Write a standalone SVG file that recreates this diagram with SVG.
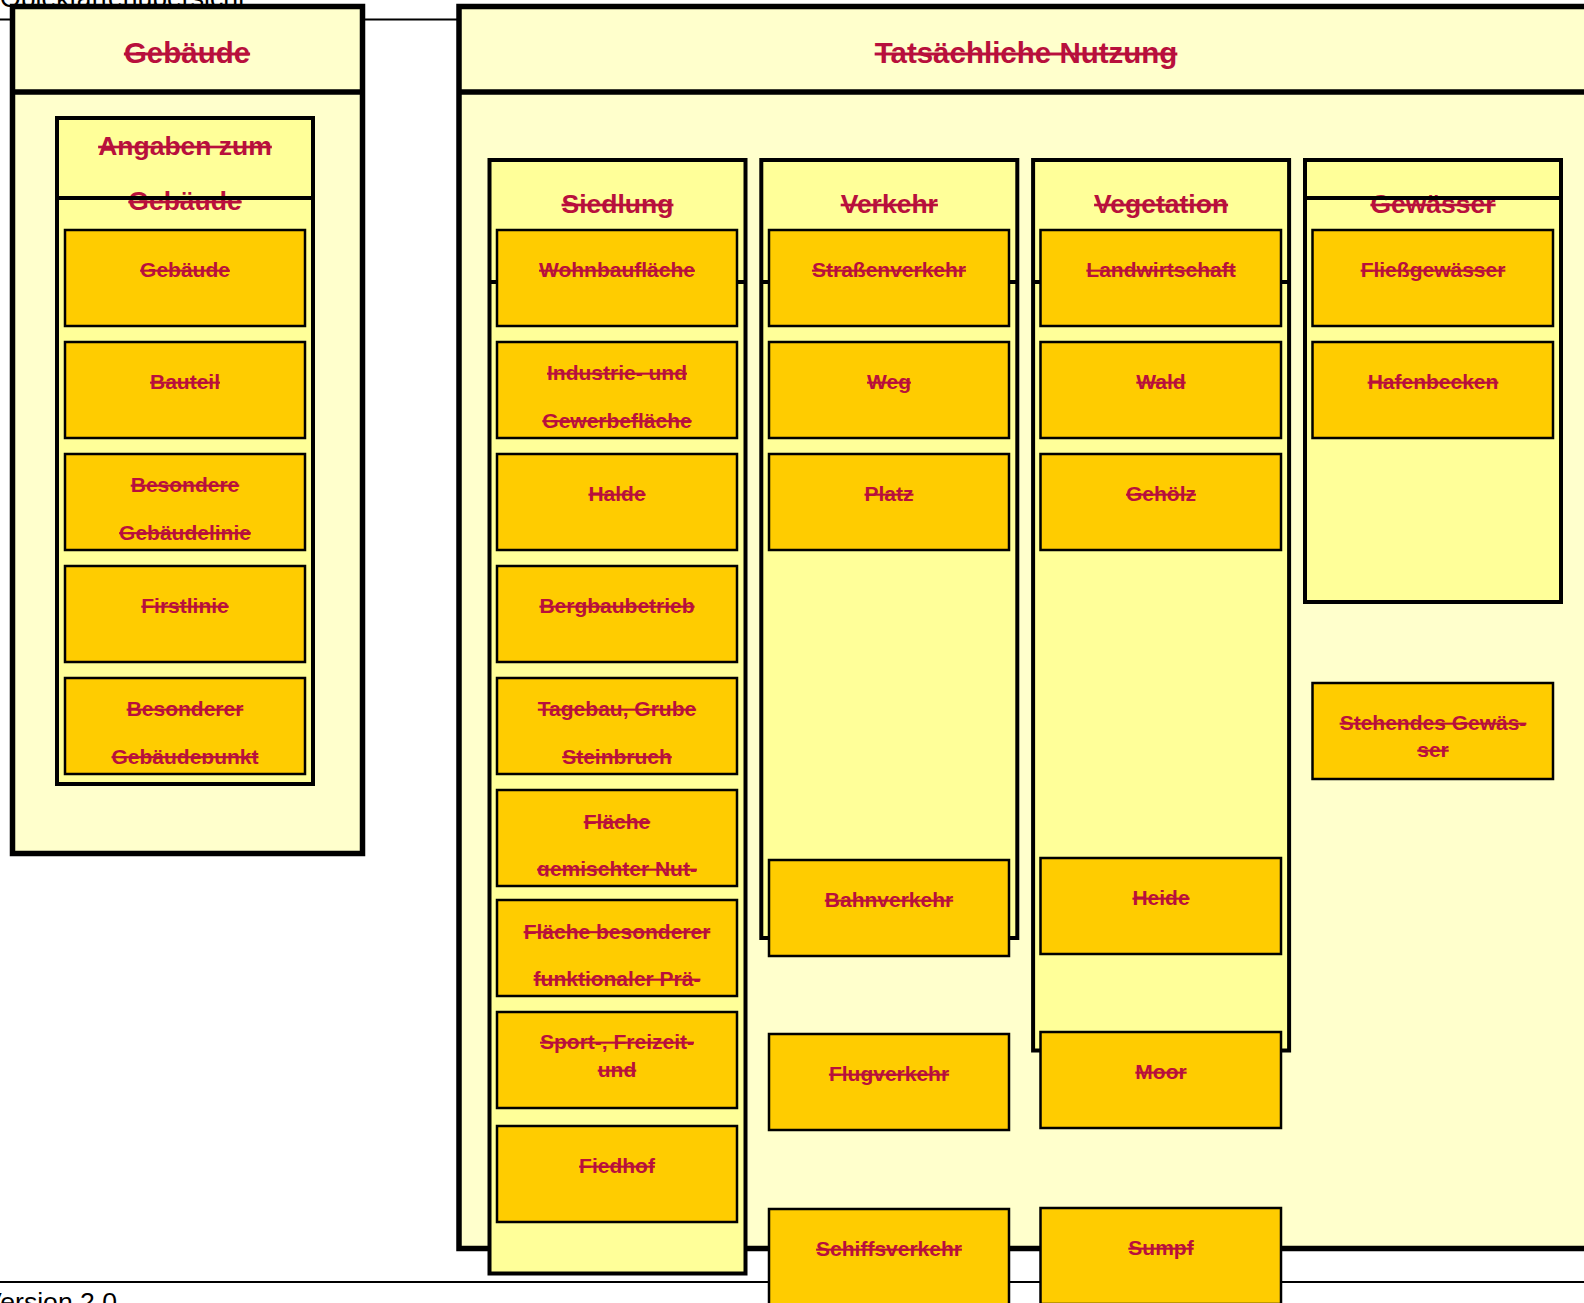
<svg xmlns="http://www.w3.org/2000/svg" width="1584" height="1303" viewBox="0 0 1584 1303">
<defs>
<style>
.t{font-family:"Liberation Sans",Arial,sans-serif;font-weight:bold;fill:#B8103C;text-anchor:middle;text-decoration:line-through}
.h1{font-size:29.5px}
.h2{font-size:26.5px}
.c{font-size:21px}
.outer{fill:#FFFFCC;stroke:#000;stroke-width:5.5}
.col{fill:#FFFF99;stroke:#000;stroke-width:4}
.div{stroke:#000;stroke-width:4;fill:none}
.node rect{fill:#FFCC00;stroke:#000;stroke-width:2.5}
.plain{font-family:"Liberation Sans",Arial,sans-serif;fill:#000;font-size:26.6px}
</style>
<clipPath id="clipA"><rect x="497" y="790" width="240" height="86.5"/></clipPath>
<clipPath id="clipB"><rect x="65" y="678" width="240" height="86"/></clipPath>
</defs>

<g id="page">
<text class="plain" x="0" y="7">Objektartenübersicht</text>
<line x1="0" y1="19.5" x2="1584" y2="19.5" stroke="#000" stroke-width="2"/>
<line x1="0" y1="1282" x2="1584" y2="1282" stroke="#000" stroke-width="2"/>
<text class="plain" x="-16" y="1311">Version 2.0</text>
</g>

<g id="gebaeude-pkg">
<rect class="outer" x="12.5" y="6.5" width="350" height="847"/>
<line class="div" x1="12.5" y1="92" x2="362.5" y2="92" style="stroke-width:5.5"/>
<text class="t h1" x="187" y="63">Gebäude</text>
</g>

<g id="angaben-pkg">
<rect class="col" x="57" y="118" width="256" height="666"/>
<text class="t h2" x="185" y="155">Angaben zum</text>
<text class="t h2" x="185" y="210">Gebäude</text>
<line class="div" x1="57" y1="198" x2="313" y2="198"/>
</g>

<g id="nutzung-pkg">
<rect class="outer" x="459" y="6.5" width="1150" height="1242"/>
<line class="div" x1="459" y1="92" x2="1600" y2="92" style="stroke-width:5.5"/>
<text class="t h1" x="1026" y="63">Tatsächliche Nutzung</text>
</g>

<g id="siedlung-pkg">
<rect class="col" x="489.5" y="160" width="256" height="1113.5"/>
<text class="t h2" x="617.5" y="213">Siedlung</text>
<line class="div" x1="489.5" y1="282" x2="745.5" y2="282"/>
</g>
<g id="verkehr-pkg">
<rect class="col" x="761.3" y="160" width="256" height="778"/>
<text class="t h2" x="889.3" y="213">Verkehr</text>
<line class="div" x1="761.3" y1="282" x2="1017.3" y2="282"/>
</g>
<g id="vegetation-pkg">
<rect class="col" x="1033.1" y="160" width="256" height="890.5"/>
<text class="t h2" x="1161.1" y="213">Vegetation</text>
<line class="div" x1="1033.1" y1="282" x2="1289.1" y2="282"/>
</g>
<g id="gewaesser-pkg">
<rect class="col" x="1305" y="160" width="256" height="442"/>
<text class="t h2" x="1433" y="213">Gewässer</text>
<line class="div" x1="1305" y1="198" x2="1561" y2="198"/>
</g>

<g id="connectors"></g>

<g id="n-gebaeude" class="node"><rect x="65" y="230" width="240" height="96"/><text class="t c" x="185" y="277">Gebäude</text></g>
<g id="n-bauteil" class="node"><rect x="65" y="342" width="240" height="96"/><text class="t c" x="185" y="389">Bauteil</text></g>
<g id="n-besondere-gebaeudelinie" class="node"><rect x="65" y="454" width="240" height="96"/><text class="t c" x="185" y="492">Besondere</text><text class="t c" x="185" y="539.5">Gebäudelinie</text></g>
<g id="n-firstlinie" class="node"><rect x="65" y="566" width="240" height="96"/><text class="t c" x="185" y="613">Firstlinie</text></g>
<g id="n-besonderer-gebaeudepunkt" class="node"><rect x="65" y="678" width="240" height="96"/><text class="t c" x="185" y="716">Besonderer</text><text class="t c" x="185" y="763.5" clip-path="url(#clipB)">Gebäudepunkt</text></g>

<g id="n-wohnbauflaeche" class="node"><rect x="497" y="230" width="240" height="96"/><text class="t c" x="617" y="277">Wohnbaufläche</text></g>
<g id="n-industrie" class="node"><rect x="497" y="342" width="240" height="96"/><text class="t c" x="617" y="380">Industrie- und</text><text class="t c" x="617" y="427.5">Gewerbefläche</text></g>
<g id="n-halde" class="node"><rect x="497" y="454" width="240" height="96"/><text class="t c" x="617" y="501">Halde</text></g>
<g id="n-bergbau" class="node"><rect x="497" y="566" width="240" height="96"/><text class="t c" x="617" y="613">Bergbaubetrieb</text></g>
<g id="n-tagebau" class="node"><rect x="497" y="678" width="240" height="96"/><text class="t c" x="617" y="716">Tagebau, Grube</text><text class="t c" x="617" y="763.5">Steinbruch</text></g>
<g id="n-gemischt" class="node"><rect x="497" y="790" width="240" height="96"/><text class="t c" x="617" y="828.5">Fläche</text><text class="t c" x="617" y="876" clip-path="url(#clipA)">gemischter Nut-</text></g>
<g id="n-funktional" class="node"><rect x="497" y="900" width="240" height="96"/><text class="t c" x="617" y="938.5">Fläche besonderer</text><text class="t c" x="617" y="986">funktionaler Prä-</text></g>
<g id="n-sport" class="node"><rect x="497" y="1012" width="240" height="96"/><text class="t c" x="617" y="1049">Sport-, Freizeit-</text><text class="t c" x="617" y="1077">und</text></g>
<g id="n-friedhof" class="node"><rect x="497" y="1126" width="240" height="96"/><text class="t c" x="617" y="1173">Fiedhof</text></g>

<g id="n-strasse" class="node"><rect x="769" y="230" width="240" height="96"/><text class="t c" x="889" y="277">Straßenverkehr</text></g>
<g id="n-weg" class="node"><rect x="769" y="342" width="240" height="96"/><text class="t c" x="889" y="389">Weg</text></g>
<g id="n-platz" class="node"><rect x="769" y="454" width="240" height="96"/><text class="t c" x="889" y="501">Platz</text></g>
<g id="n-bahn" class="node"><rect x="769" y="860" width="240" height="96"/><text class="t c" x="889" y="907">Bahnverkehr</text></g>
<g id="n-flug" class="node"><rect x="769" y="1034" width="240" height="96"/><text class="t c" x="889" y="1081">Flugverkehr</text></g>
<g id="n-schiff" class="node"><rect x="769" y="1209" width="240" height="96"/><text class="t c" x="889" y="1256">Schiffsverkehr</text></g>

<g id="n-landwirtschaft" class="node"><rect x="1040.5" y="230" width="240.5" height="96"/><text class="t c" x="1161" y="277">Landwirtschaft</text></g>
<g id="n-wald" class="node"><rect x="1040.5" y="342" width="240.5" height="96"/><text class="t c" x="1161" y="389">Wald</text></g>
<g id="n-gehoelz" class="node"><rect x="1040.5" y="454" width="240.5" height="96"/><text class="t c" x="1161" y="501">Gehölz</text></g>
<g id="n-heide" class="node"><rect x="1040.5" y="858" width="240.5" height="96"/><text class="t c" x="1161" y="905">Heide</text></g>
<g id="n-moor" class="node"><rect x="1040.5" y="1032" width="240.5" height="96"/><text class="t c" x="1161" y="1079">Moor</text></g>
<g id="n-sumpf" class="node"><rect x="1040.5" y="1208" width="240.5" height="96"/><text class="t c" x="1161" y="1255">Sumpf</text></g>

<g id="n-fliess" class="node"><rect x="1312.5" y="230" width="240.5" height="96"/><text class="t c" x="1433" y="277">Fließgewässer</text></g>
<g id="n-hafen" class="node"><rect x="1312.5" y="342" width="240.5" height="96"/><text class="t c" x="1433" y="389">Hafenbecken</text></g>
<g id="n-stehend" class="node"><rect x="1312.5" y="683" width="240.5" height="96"/><text class="t c" x="1433" y="730">Stehendes Gewäs-</text><text class="t c" x="1433" y="757">ser</text></g>
</svg>
